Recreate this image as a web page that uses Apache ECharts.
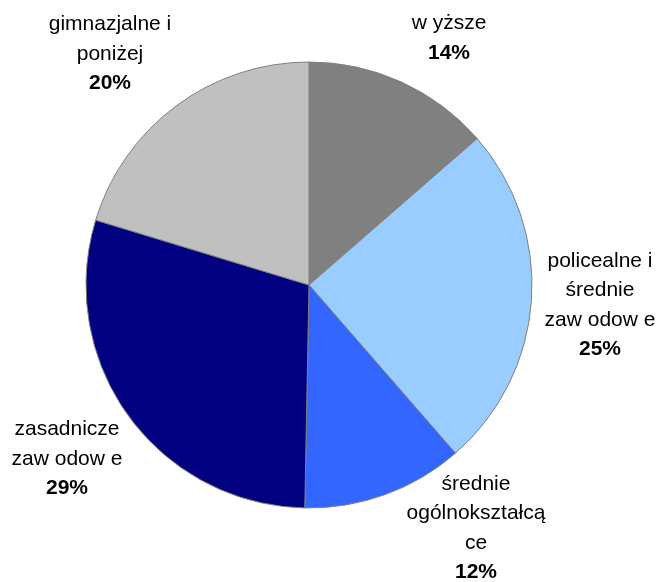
<!DOCTYPE html>
<html>
<head>
<meta charset="utf-8">
<script src="https://cdn.jsdelivr.net/npm/echarts@6/dist/echarts.min.js"></script>
<style>html,body{margin:0;padding:0;background:#fff;}#c{width:658px;height:582px;}</style>
</head>
<body>
<div id="c"></div>
<script>
const categories = ['w yższe', 'policealne i\nśrednie\nzaw odow e', 'średnie\nogólnokształcą\nce', 'zasadnicze\nzaw odow e', 'gimnazjalne i\nponiżej'];
// shares (labels show rounded percentages)
const shares = [13.6, 25.0, 11.7, 29.4, 20.3];
const colors = ['#808080', '#99CCFF', '#3366FF', '#000080', '#C0C0C0'];

// label block centres (layout only)
const labelCenters = [[449, 38], [600, 305], [476, 528], [67, 459], [110, 54]];

const chart = echarts.init(document.getElementById('c'), null, {renderer: 'canvas'});
chart.setOption({
  animation: false,
  backgroundColor: '#fff',
  series: [{
    type: 'pie',
    center: [309, 285],
    radius: 223,
    startAngle: 90,
    clockwise: true,
    avoidLabelOverlap: false,
    data: categories.map((n, i) => ({name: n, value: shares[i], itemStyle: {color: colors[i]}})),
    itemStyle: {borderColor: '#808080', borderWidth: 1},
    emphasis: {disabled: true},
    labelLine: {show: false},
    label: {
      show: true,
      position: 'outside',
      color: '#000',
      fontFamily: 'Liberation Sans, Arial, sans-serif',
      fontSize: 21,
      lineHeight: 29.5,
      align: 'center',
      formatter: p => p.name + '\n{b|' + Math.round(p.percent) + '%}',
      rich: {
        b: {fontWeight: 'bold', fontSize: 21, lineHeight: 29.5, color: '#000', fontFamily: 'Liberation Sans, Arial, sans-serif'}
      }
    },
    labelLayout: p => ({
      x: labelCenters[p.dataIndex][0],
      y: labelCenters[p.dataIndex][1],
      align: 'center',
      verticalAlign: 'middle'
    })
  }]
});
</script>
</body>
</html>
